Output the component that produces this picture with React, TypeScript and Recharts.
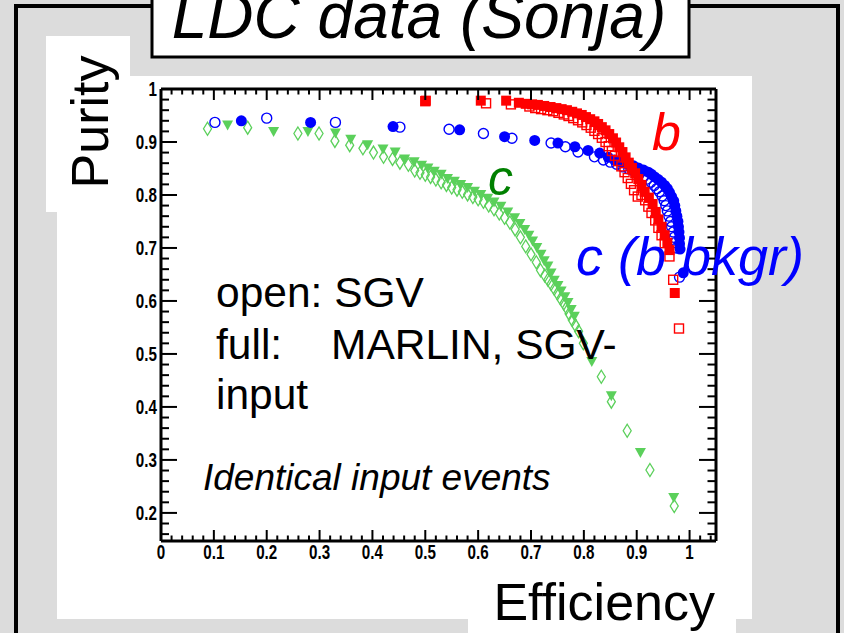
import React from "react";
import { ScatterChart, Scatter, XAxis, YAxis } from "recharts";

// tick labels (major), minor ticks are 5 per major interval
const xTickLabels = [0, 0.1, 0.2, 0.3, 0.4, 0.5, 0.6, 0.7, 0.8, 0.9, 1];
const yTickLabels = [0.2, 0.3, 0.4, 0.5, 0.6, 0.7, 0.8, 0.9, 1];

// c tagging, SGV (open diamonds)
const cSgv: [number, number][] = [
	[0.088, 0.925], [0.164, 0.927], [0.259, 0.916], [0.299, 0.916], [0.329, 0.902],
	[0.357, 0.894], [0.382, 0.888], [0.402, 0.88], [0.421, 0.872], [0.438, 0.868],
	[0.452, 0.861], [0.468, 0.857], [0.48, 0.846], [0.49, 0.842], [0.5, 0.838],
	[0.51, 0.834], [0.52, 0.829], [0.53, 0.824], [0.54, 0.819], [0.55, 0.814],
	[0.56, 0.81], [0.57, 0.806], [0.58, 0.801], [0.59, 0.796], [0.6, 0.792],
	[0.61, 0.787], [0.62, 0.78], [0.63, 0.773], [0.64, 0.765], [0.65, 0.757],
	[0.66, 0.748], [0.67, 0.735], [0.68, 0.72], [0.69, 0.703], [0.7, 0.688],
	[0.71, 0.673], [0.718, 0.658], [0.726, 0.648], [0.732, 0.64], [0.738, 0.632],
	[0.744, 0.623], [0.75, 0.614], [0.756, 0.604], [0.762, 0.595], [0.767, 0.587],
	[0.772, 0.576], [0.778, 0.564], [0.784, 0.554], [0.79, 0.543], [0.799, 0.52],
	[0.833, 0.457], [0.852, 0.41], [0.882, 0.355], [0.925, 0.281], [0.971, 0.213],
];

// c tagging, MARLIN (full triangles)
const cMarlin: [number, number][] = [
	[0.126, 0.931], [0.213, 0.919], [0.278, 0.919], [0.33, 0.916], [0.359, 0.904],
	[0.391, 0.894], [0.42, 0.886], [0.443, 0.88], [0.461, 0.867], [0.479, 0.862],
	[0.493, 0.855], [0.505, 0.85], [0.517, 0.844], [0.53, 0.838], [0.542, 0.83],
	[0.555, 0.825], [0.567, 0.819], [0.58, 0.813], [0.593, 0.806], [0.605, 0.8],
	[0.618, 0.793], [0.63, 0.786], [0.643, 0.778], [0.656, 0.767], [0.669, 0.756],
	[0.679, 0.745], [0.688, 0.734], [0.696, 0.723], [0.703, 0.712], [0.711, 0.7],
	[0.719, 0.687], [0.725, 0.675], [0.732, 0.665], [0.738, 0.652], [0.744, 0.638],
	[0.751, 0.628], [0.757, 0.618], [0.764, 0.607], [0.77, 0.596], [0.776, 0.583],
	[0.782, 0.57], [0.815, 0.485], [0.852, 0.42], [0.907, 0.313], [0.97, 0.228],
];

// c with b background, SGV (open circles)
const cbSgv: [number, number][] = [
	[0.102, 0.937], [0.2, 0.945], [0.33, 0.937], [0.452, 0.928], [0.545, 0.924],
	[0.61, 0.916], [0.664, 0.907], [0.738, 0.898], [0.765, 0.891], [0.789, 0.881],
	[0.82, 0.872], [0.837, 0.866], [0.85, 0.862], [0.862, 0.858], [0.874, 0.853],
	[0.885, 0.849], [0.895, 0.845], [0.905, 0.84], [0.913, 0.835], [0.92, 0.83],
	[0.927, 0.824], [0.933, 0.818], [0.938, 0.812], [0.943, 0.806], [0.948, 0.798],
	[0.952, 0.789], [0.955, 0.78], [0.958, 0.77], [0.961, 0.76], [0.964, 0.75],
	[0.966, 0.74], [0.969, 0.73], [0.971, 0.72], [0.973, 0.71], [0.975, 0.7],
	[0.981, 0.645],
];

// c with b background, MARLIN (full circles)
const cbMarlin: [number, number][] = [
	[0.152, 0.94], [0.283, 0.937], [0.439, 0.929], [0.565, 0.923], [0.65, 0.91],
	[0.707, 0.903], [0.751, 0.898], [0.783, 0.891], [0.808, 0.884], [0.83, 0.879],
	[0.846, 0.871], [0.858, 0.866], [0.871, 0.862], [0.884, 0.858], [0.894, 0.855],
	[0.903, 0.851], [0.913, 0.847], [0.922, 0.843], [0.928, 0.839], [0.934, 0.834],
	[0.941, 0.829], [0.947, 0.824], [0.953, 0.818], [0.958, 0.812], [0.962, 0.805],
	[0.966, 0.797], [0.97, 0.789], [0.972, 0.78], [0.974, 0.77], [0.976, 0.76],
	[0.978, 0.75], [0.979, 0.74], [0.98, 0.73], [0.981, 0.719], [0.981, 0.708],
	[0.982, 0.698], [0.988, 0.653],
];

// b tagging, SGV (open squares)
const bSgv: [number, number][] = [
	[0.5, 0.977], [0.615, 0.973], [0.662, 0.971], [0.697, 0.967], [0.708, 0.964],
	[0.719, 0.962], [0.731, 0.96], [0.742, 0.958], [0.752, 0.955], [0.762, 0.952],
	[0.771, 0.949], [0.78, 0.945], [0.789, 0.941], [0.797, 0.937], [0.805, 0.932],
	[0.813, 0.927], [0.82, 0.921], [0.827, 0.915], [0.834, 0.908], [0.841, 0.9],
	[0.847, 0.892], [0.853, 0.883], [0.859, 0.874], [0.865, 0.864], [0.871, 0.854],
	[0.877, 0.843], [0.883, 0.832], [0.889, 0.821], [0.895, 0.809], [0.902, 0.797],
	[0.909, 0.8], [0.916, 0.79], [0.922, 0.778], [0.928, 0.766], [0.935, 0.752],
	[0.941, 0.738], [0.947, 0.724], [0.953, 0.709], [0.962, 0.684], [0.969, 0.64],
	[0.98, 0.548],
];

// b tagging, MARLIN (full squares)
const bMarlin: [number, number][] = [
	[0.501, 0.978], [0.605, 0.978], [0.653, 0.978], [0.677, 0.974], [0.69, 0.972],
	[0.702, 0.971], [0.713, 0.97], [0.725, 0.968], [0.737, 0.966], [0.748, 0.964],
	[0.758, 0.962], [0.768, 0.96], [0.778, 0.957], [0.787, 0.954], [0.796, 0.951],
	[0.804, 0.947], [0.812, 0.943], [0.82, 0.939], [0.827, 0.934], [0.834, 0.928],
	[0.841, 0.922], [0.848, 0.915], [0.855, 0.907], [0.861, 0.899], [0.867, 0.89],
	[0.873, 0.881], [0.879, 0.871], [0.885, 0.861], [0.891, 0.851], [0.897, 0.841],
	[0.903, 0.83], [0.909, 0.819], [0.915, 0.806], [0.923, 0.795], [0.93, 0.783],
	[0.936, 0.768], [0.941, 0.754], [0.947, 0.74], [0.953, 0.724], [0.958, 0.71],
	[0.962, 0.696], [0.972, 0.615],
];

const toPts = (a: [number, number][]) => a.map(([x, y]) => ({ x, y }));

const subdivide = (majors: number[], lo: number, hi: number) => {
	const out: number[] = [];
	const step = (majors[1] - majors[0]) / 5;
	for (let m = majors[0] - 5 * step; m <= majors[majors.length - 1] + 1e-9; m += 5 * step) {
		for (let k = 0; k < 5; k++) {
			const v = Math.round((m + k * step) * 1000) / 1000;
			if (v >= lo - 1e-9 && v <= hi + 1e-9) out.push(v);
		}
	}
	return out;
};

const X_DOMAIN: [number, number] = [0, 1.05];
const Y_DOMAIN: [number, number] = [0.147, 1];
const xTicks = subdivide(xTickLabels, X_DOMAIN[0], X_DOMAIN[1]);
const yTicks = subdivide(yTickLabels, Y_DOMAIN[0], Y_DOMAIN[1]);

const isMajor = (v: number) => Math.abs(v * 10 - Math.round(v * 10)) < 1e-6;
const fmt = (v: number) => (Math.abs(v) < 1e-9 ? "0" : Math.abs(v - 1) < 1e-9 ? "1" : v.toFixed(1));

const GREEN = "#5bd05b";
const BLUE = "#0000ff";
const RED = "#ff0000";
const labelFont = "'Liberation Sans', Arial, sans-serif";

const tickText = (x: number, y: number, v: number, anchor: string) => (
	<text
		transform={`translate(${x},${y}) scale(0.76,1)`}
		textAnchor={anchor}
		fontFamily={labelFont}
		fontWeight="bold"
		fontSize={20}
		fill="#000"
	>
		{fmt(v)}
	</text>
);

const BottomTick = (p: any) => {
	const v = p.payload.value;
	const major = isMajor(v);
	return (
		<g>
			<line x1={p.x} x2={p.x} y1={p.y} y2={p.y - (major ? 11 : 5.5)} stroke="#000" strokeWidth={2} />
			{major && tickText(p.x, p.y + 18, v, "middle")}
		</g>
	);
};

const TopTick = (p: any) => {
	const major = isMajor(p.payload.value);
	return <line x1={p.x} x2={p.x} y1={p.y} y2={p.y + (major ? 11 : 5.5)} stroke="#000" strokeWidth={2} />;
};

const LeftTick = (p: any) => {
	const v = p.payload.value;
	const major = isMajor(v);
	return (
		<g>
			<line x1={p.x} x2={p.x + (major ? 16 : 8)} y1={p.y} y2={p.y} stroke="#000" strokeWidth={2} />
			{major && tickText(p.x - 4, p.y + 7, v, "end")}
		</g>
	);
};

const RightTick = (p: any) => {
	const major = isMajor(p.payload.value);
	return <line x1={p.x} x2={p.x - (major ? 17 : 8.5)} y1={p.y} y2={p.y} stroke="#000" strokeWidth={2} />;
};

const openDiamond = (p: any) => (
	<path
		d={`M${p.cx},${p.cy - 6.5}L${p.cx + 4},${p.cy}L${p.cx},${p.cy + 6.5}L${p.cx - 4},${p.cy}Z`}
		fill="none"
		stroke={GREEN}
		strokeWidth={1.3}
	/>
);
const fullTriangle = (p: any) => (
	<path d={`M${p.cx - 5.5},${p.cy - 5}L${p.cx + 5.5},${p.cy - 5}L${p.cx},${p.cy + 5}Z`} fill={GREEN} />
);
const openCircle = (p: any) => (
	<circle cx={p.cx} cy={p.cy} r={5} fill="none" stroke={BLUE} strokeWidth={1.4} />
);
const fullCircle = (p: any) => <circle cx={p.cx} cy={p.cy} r={5.5} fill={BLUE} />;
const openSquare = (p: any) => (
	<rect x={p.cx - 4.5} y={p.cy - 4.5} width={9} height={9} fill="none" stroke={RED} strokeWidth={1.4} />
);
const fullSquare = (p: any) => <rect x={p.cx - 5} y={p.cy - 5} width={10} height={10} fill={RED} />;

const axisLine = { stroke: "#000", strokeWidth: 3 };

export default function App() {
	return (
		<div
			style={{
				position: "absolute",
				left: 0,
				top: 0,
				width: 844,
				height: 633,
				overflow: "hidden",
				background: "#dcdcdc",
			}}
		>
			<svg width={844} height={633} style={{ position: "absolute", left: 0, top: 0 }}>
				<rect x={16} y={6} width={822} height={660} fill="none" stroke="#000" strokeWidth={4} />
				<rect x={46} y={36} width={84} height={176} fill="#fff" />
				<rect x={57} y={76} width={695} height={543} fill="#fff" />
				<rect x={468} y={590} width={268} height={60} fill="#fff" />
				<rect x={152} y={-6} width={537} height={63} fill="#fff" stroke="#000" strokeWidth={3} />
			</svg>
			<div style={{ position: "absolute", left: 0, top: 0 }}>
				<ScatterChart width={844} height={633} margin={{ top: 88, right: 127, bottom: 62, left: 121 }}>
					<XAxis
						xAxisId="b"
						type="number"
						dataKey="x"
						domain={X_DOMAIN}
						ticks={xTicks}
						interval={0}
						height={30}
						tickSize={0}
						tickMargin={0}
						tick={<BottomTick />}
						axisLine={axisLine}
						allowDataOverflow
					/>
					<XAxis
						xAxisId="t"
						orientation="top"
						type="number"
						dataKey="x"
						domain={X_DOMAIN}
						ticks={xTicks}
						interval={0}
						height={1}
						tickSize={0}
						tickMargin={0}
						tick={<TopTick />}
						axisLine={axisLine}
						allowDataOverflow
					/>
					<YAxis
						yAxisId="l"
						type="number"
						dataKey="y"
						domain={Y_DOMAIN}
						ticks={yTicks}
						interval={0}
						width={40}
						tickSize={0}
						tickMargin={0}
						tick={<LeftTick />}
						axisLine={axisLine}
						allowDataOverflow
					/>
					<YAxis
						yAxisId="r"
						orientation="right"
						type="number"
						dataKey="y"
						domain={Y_DOMAIN}
						ticks={yTicks}
						interval={0}
						width={1}
						tickSize={0}
						tickMargin={0}
						tick={<RightTick />}
						axisLine={axisLine}
						allowDataOverflow
					/>
					<Scatter xAxisId="b" yAxisId="l" data={toPts(cSgv)} shape={openDiamond} isAnimationActive={false} />
					<Scatter xAxisId="b" yAxisId="l" data={toPts(cMarlin)} shape={fullTriangle} isAnimationActive={false} />
					<Scatter xAxisId="b" yAxisId="l" data={toPts(cbSgv)} shape={openCircle} isAnimationActive={false} />
					<Scatter xAxisId="b" yAxisId="l" data={toPts(cbMarlin)} shape={fullCircle} isAnimationActive={false} />
					<Scatter xAxisId="b" yAxisId="l" data={toPts(bSgv)} shape={openSquare} isAnimationActive={false} />
					<Scatter xAxisId="b" yAxisId="l" data={toPts(bMarlin)} shape={fullSquare} isAnimationActive={false} />
				</ScatterChart>
			</div>
			<svg
				width={844}
				height={633}
				style={{ position: "absolute", left: 0, top: 0, pointerEvents: "none" }}
				fontFamily={labelFont}
			>
				<text x={419} y={38} textAnchor="middle" fontSize={64} fontStyle="italic" fill="#000">
					LDC data (Sonja)
				</text>
				<text
					x={108}
					y={122}
					textAnchor="middle"
					fontSize={52}
					fill="#000"
					transform="rotate(-90, 108, 122)"
				>
					Purity
				</text>
				<text x={715} y={620} textAnchor="end" fontSize={52} fill="#000">
					Efficiency
				</text>
				<text x={652} y={150} fontSize={52} fontStyle="italic" fill={RED}>
					b
				</text>
				<text x={488} y={195} fontSize={50} fontStyle="italic" fill="#008000">
					c
				</text>
				<text x={576} y={275} fontSize={54} fontStyle="italic" fill={BLUE}>
					c (b bkgr)
				</text>
				<text fontSize={42.5} fill="#000">
					<tspan x={216} y={307}>open: SGV</tspan>
					<tspan x={216} y={359}>full:</tspan>
					<tspan x={331} y={359}>MARLIN, SGV-</tspan>
					<tspan x={216} y={409}>input</tspan>
				</text>
				<text x={203} y={490} fontSize={37} fontStyle="italic" fill="#000">
					Identical input events
				</text>
			</svg>
		</div>
	);
}
